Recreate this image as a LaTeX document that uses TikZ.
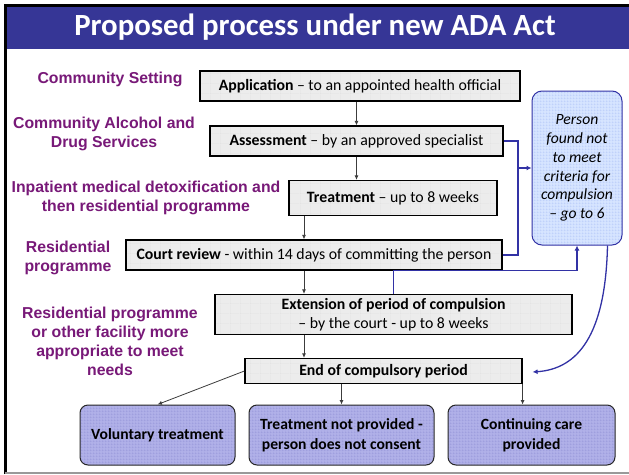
\documentclass[tikz,border=0pt]{standalone}
\usepackage{fontspec}
\setmainfont{Carlito}
\newfontfamily\arialfont{Liberation Sans}
\usetikzlibrary{patterns,calc,arrows.meta}
\pgfdeclarepatternformonly{biggrid}{\pgfpointorigin}{\pgfqpoint{10pt}{10pt}}{\pgfqpoint{10pt}{10pt}}{%
  \pgfsetlinewidth{0.4pt}%
  \pgfpathmoveto{\pgfpointorigin}\pgfpathlineto{\pgfqpoint{10pt}{0pt}}%
  \pgfpathmoveto{\pgfpointorigin}\pgfpathlineto{\pgfqpoint{0pt}{10pt}}%
  \pgfusepath{stroke}}
\pgfdeclarepatternformonly{finegrid}{\pgfpointorigin}{\pgfqpoint{3pt}{3pt}}{\pgfqpoint{3pt}{3pt}}{%
  \pgfsetlinewidth{0.6pt}%
  \pgfpathmoveto{\pgfpointorigin}\pgfpathlineto{\pgfqpoint{3pt}{0pt}}%
  \pgfpathmoveto{\pgfpointorigin}\pgfpathlineto{\pgfqpoint{0pt}{3pt}}%
  \pgfusepath{stroke}}
\definecolor{titleblue}{RGB}{54,54,150}
\definecolor{lblpurple}{RGB}{120,25,120}
\definecolor{connblue}{RGB}{50,50,165}
\definecolor{boxgray}{RGB}{236,236,236}
\definecolor{gridgray}{RGB}{205,205,205}
\definecolor{lav}{RGB}{176,176,232}
\definecolor{lavgrid}{RGB}{120,120,200}
\definecolor{skyfill}{RGB}{214,228,255}
\definecolor{skygrid}{RGB}{140,165,240}
\definecolor{arrgray}{RGB}{60,60,60}
\tikzset{
  procbox/.style={preaction={fill=boxgray}, pattern=biggrid, pattern color=gridgray,
    draw=black, line width=1.2pt, inner sep=0pt, align=center,
    font=\fontsize{15.8}{19}\selectfont},
  outbox/.style={preaction={fill=lav}, pattern=finegrid, pattern color=lavgrid,
    draw=black!85, line width=1pt, rounded corners=8pt, inner sep=0pt, align=center,
    minimum height=60, font=\bfseries\fontsize{15.6}{20.5}\selectfont},
  personbox/.style={preaction={fill=skyfill}, pattern=finegrid, pattern color=skygrid,
    draw=connblue, line width=1pt, rounded corners=10pt, inner sep=0pt, align=center,
    font=\itshape\fontsize{15.6}{18.8}\selectfont},
  lbl/.style={font=\arialfont\bfseries\fontsize{15.8}{18.9}\selectfont, text=lblpurple, align=center},
  arr/.style={draw=arrgray, line width=0.8pt, -{Latex[length=4.5pt,width=4pt]}},
  blueline/.style={draw=connblue, line width=1.3pt},
  bluetip/.style={-{Latex[length=5pt,width=5pt]}}
}
\begin{document}
\begin{tikzpicture}[x=1pt,y=-1pt]
\useasboundingbox (0,0) rectangle (629,474);
\fill[white] (0,0) rectangle (629,474);
% title bar and frame
\fill[titleblue] (6,6) rectangle (629,48.5);
\draw[black, line width=2.8pt] (5.2,474) -- (5.2,5.4) -- (629,5.4);
\draw[black!40, line width=2pt] (5,472.5) -- (629,472.5);
\node[font=\bfseries\fontsize{30.8}{34}\selectfont, text=white] (title) at (315,27.5) {Proposed process under new ADA Act};

% left labels
\node[lbl] (l1) at (110,79) {Community Setting};
\node[lbl] (l2) at (104,134) {Community Alcohol and\\Drug Services};
\node[lbl] (l3) at (146,197.5) {Inpatient medical detoxification and\\then residential programme};
\node[lbl] (l4) at (68,258) {Residential\\programme};
\node[lbl] (l5) at (110,341.5) {Residential programme\\or other facility more\\appropriate to meet\\needs};

% process boxes
\node[procbox, minimum width=320, minimum height=30] (app) at (360,86) {\textbf{Application} – to an appointed health official};
\node[procbox, minimum width=293, minimum height=30] (ass) at (356.5,141) {\textbf{Assessment} – by an approved specialist};
\node[procbox, minimum width=208, minimum height=35] (treat) at (393,198) {\textbf{Treatment} – up to 8 weeks};
\node[procbox, minimum width=376, minimum height=30] (court) at (314,255) {\textbf{Court review} - within 14 days of committing the person};
\node[procbox, minimum width=357, minimum height=40] (ext) at (393.5,314.5) {\textbf{Extension of period of compulsion}\\– by the court - up to 8 weeks};
\node[procbox, minimum width=277, minimum height=25] (endp) at (383.5,371) {\textbf{End of compulsory period}};

% outcome boxes
\node[outbox, minimum width=155] (vol) at (157.5,435) {Voluntary treatment};
\node[outbox, minimum width=185] (np) at (341.5,435) {Treatment not provided -\\person does not consent};
\node[outbox, minimum width=167] (cc) at (531.5,435) {Continuing care\\provided};

% person box
\node[personbox, minimum width=90, minimum height=154] (person) at (577,168) {Person\\found not\\to meet\\criteria for\\compulsion\\– go to 6};

% black connectors
\coordinate (xa) at (304,0);
\draw[arr] (app.south -| ass.north) -- (ass.north);
\draw[arr] (ass.south) -- (ass.south |- treat.north);
\draw[arr] (treat.south -| xa) -- (court.north -| xa);
\draw[arr] (court.south -| xa) -- (ext.north -| xa);
\draw[arr] (ext.south -| xa) -- (endp.north -| xa);
\draw[arr] (endp.west) -- (vol.north);
\draw[arr] (np.north |- endp.south) -- (np.north);
\draw[arr] (endp.south east) -- (endp.south east |- cc.north);

% blue connectors
\coordinate (xr) at (518,0);
\draw[blueline] (ass.east) -- (ass.east -| xr) -- (court.east -| xr) -- (court.east);
\draw[blueline, bluetip] (xr |- person.west) -- (person.west);
\draw[blueline, bluetip] (ext.north) -- (ext.north |- court.south) -| (person.south);
\coordinate (pc) at ($(person.south east)+(-15,0)$);
\coordinate (pe) at ($(endp.east)+(10,1)$);
\draw[blueline, bluetip] (pc) .. controls ($(pc)+(-2,90)$) and ($(pe)+(45,-3)$) .. (pe);
\end{tikzpicture}
\end{document}
